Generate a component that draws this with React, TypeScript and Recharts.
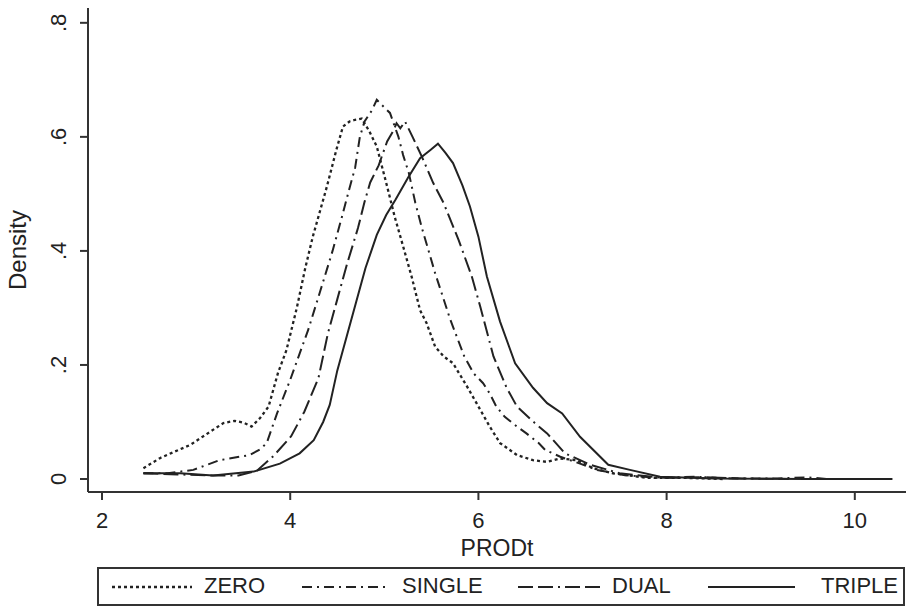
import { Label, Line, LineChart, XAxis, YAxis } from "recharts";

// kernel density curves as [PRODt, density]
const ZERO: [number, number][] = [
  [2.44, 0.019], [2.62, 0.037], [2.8, 0.05], [2.94, 0.06], [3.15, 0.083], [3.29, 0.098],
  [3.41, 0.102], [3.5, 0.099], [3.59, 0.092], [3.68, 0.107], [3.77, 0.127], [3.87, 0.186],
  [3.96, 0.226], [4.07, 0.3], [4.16, 0.37], [4.24, 0.425], [4.39, 0.513], [4.49, 0.577],
  [4.56, 0.618], [4.63, 0.627], [4.69, 0.63], [4.76, 0.632], [4.84, 0.61], [4.92, 0.583],
  [5.03, 0.513], [5.11, 0.46], [5.2, 0.408], [5.29, 0.355], [5.38, 0.296], [5.45, 0.273],
  [5.54, 0.232], [5.63, 0.215], [5.73, 0.203], [5.88, 0.162], [5.98, 0.133], [6.12, 0.092],
  [6.23, 0.063], [6.41, 0.042], [6.58, 0.033], [6.73, 0.03], [6.87, 0.036], [7.04, 0.033],
  [7.22, 0.019], [7.43, 0.01], [7.79, 0.002], [8.2, 0.002], [8.6, 0.0],
];

const SINGLE: [number, number][] = [
  [2.44, 0.01], [2.7, 0.01], [2.97, 0.016], [3.25, 0.033], [3.57, 0.042], [3.68, 0.052],
  [3.75, 0.063], [3.86, 0.115], [4.0, 0.174], [4.1, 0.22], [4.19, 0.261], [4.32, 0.33],
  [4.45, 0.4], [4.55, 0.46], [4.63, 0.51], [4.69, 0.546], [4.74, 0.6], [4.79, 0.627],
  [4.87, 0.647], [4.92, 0.665], [5.01, 0.65], [5.06, 0.642], [5.15, 0.6], [5.2, 0.568],
  [5.26, 0.537], [5.33, 0.484], [5.4, 0.44], [5.54, 0.361], [5.7, 0.28], [5.85, 0.215],
  [5.95, 0.185], [6.05, 0.168], [6.12, 0.15], [6.19, 0.127], [6.28, 0.109], [6.41, 0.092],
  [6.51, 0.08], [6.64, 0.063], [6.71, 0.051], [6.87, 0.039], [7.08, 0.027], [7.26, 0.016],
  [7.54, 0.007], [7.9, 0.002], [8.3, 0.004], [8.7, 0.001], [9.2, 0.001], [9.5, 0.003], [9.7, 0.0],
];

const DUAL: [number, number][] = [
  [2.44, 0.01], [2.8, 0.008], [3.2, 0.006], [3.45, 0.006], [3.65, 0.015], [3.82, 0.04],
  [4.01, 0.075], [4.15, 0.118], [4.3, 0.177], [4.4, 0.255], [4.5, 0.315], [4.6, 0.375],
  [4.72, 0.44], [4.79, 0.486], [4.85, 0.52], [4.94, 0.55], [5.03, 0.592], [5.1, 0.612],
  [5.13, 0.624], [5.17, 0.615], [5.22, 0.627], [5.3, 0.6], [5.4, 0.565], [5.52, 0.519],
  [5.63, 0.484], [5.79, 0.419], [5.93, 0.355], [6.02, 0.302], [6.16, 0.215], [6.3, 0.16],
  [6.41, 0.127], [6.6, 0.098], [6.73, 0.08], [6.92, 0.045], [7.19, 0.025], [7.5, 0.01],
  [7.96, 0.002], [8.4, 0.003], [8.8, 0.001], [9.3, 0.0],
];

const TRIPLE: [number, number][] = [
  [2.44, 0.01], [2.83, 0.01], [3.18, 0.006], [3.61, 0.013], [3.89, 0.027], [4.1, 0.045],
  [4.25, 0.068], [4.35, 0.1], [4.42, 0.13], [4.5, 0.19], [4.6, 0.25], [4.7, 0.31],
  [4.8, 0.37], [4.92, 0.428], [5.02, 0.463], [5.12, 0.49], [5.25, 0.528], [5.38, 0.5625],
  [5.49, 0.577], [5.57, 0.588], [5.65, 0.572], [5.73, 0.554], [5.83, 0.515], [5.91, 0.478],
  [6.0, 0.425], [6.09, 0.355], [6.23, 0.276], [6.39, 0.203], [6.58, 0.16], [6.73, 0.133],
  [6.89, 0.115], [7.08, 0.074], [7.38, 0.025], [7.61, 0.016], [7.93, 0.004], [8.5, 0.001],
  [9.5, 0.0], [10.4, 0.0],
];

const xTicks = [2, 4, 6, 8, 10];
const yTicks = [0, 0.2, 0.4, 0.6, 0.8];

const INK = "#222";
const FONT = "'Liberation Sans', Arial, sans-serif";

const series = [
  { name: "ZERO", points: ZERO, dash: "3 3", width: 2.3 },
  { name: "SINGLE", points: SINGLE, dash: "10 5 2 5", width: 2 },
  { name: "DUAL", points: DUAL, dash: "15 5 15 5 2 5", width: 2 },
  { name: "TRIPLE", points: TRIPLE, dash: undefined as string | undefined, width: 2 },
];

const toRows = (pts: [number, number][]) => pts.map(([x, y]) => ({ x, y }));

// stata style labels: 0, .2, .4 ...
const fmtY = (v: number) => (v === 0 ? "0" : String(v).replace(/^0/, ""));

function YTick({ x, y, payload }: any) {
  return (
    <text x={x} y={y} transform={`rotate(-90 ${x} ${y})`} textAnchor="middle"
      fontSize={22} fontFamily={FONT} fill={INK}>
      {fmtY(payload.value)}
    </text>
  );
}

const legendPos = [
  { sample: [112, 192], text: 204 },
  { sample: [302, 390], text: 402 },
  { sample: [518, 603], text: 612 },
  { sample: [708, 795], text: 821 },
];

export default function App() {
  return (
    <div style={{ position: "absolute", left: 0, top: 0, width: 914, height: 608, background: "#fff", fontFamily: FONT }}>
      <LineChart width={914} height={608} margin={{ top: 8, right: 8, left: 0, bottom: 76 }}>
        <XAxis type="number" dataKey="x" domain={[1.851, 10.544]} ticks={xTicks} allowDataOverflow
          height={40} tickSize={8} tickMargin={12} stroke="#333" strokeWidth={2}
          tick={{ fontSize: 22, fill: INK, fontFamily: FONT }}>
          <Label content={({ viewBox }: any) => (
            <text x={viewBox.x + viewBox.width / 2} y={viewBox.y + 64} textAnchor="middle"
              fontSize={23} fontFamily={FONT} fill={INK}>PRODt</text>
          )} />
        </XAxis>
        <YAxis type="number" dataKey="y" domain={[-0.0228, 0.826]} ticks={yTicks} allowDataOverflow
          width={88} tickSize={8} tickMargin={14} stroke="#333" strokeWidth={2} tick={<YTick />}>
          <Label content={({ viewBox }: any) => {
            const cy = viewBox.y + viewBox.height / 2;
            return (
              <text x={26} y={cy} transform={`rotate(-90 26 ${cy})`} textAnchor="middle"
                fontSize={24} fontFamily={FONT} fill={INK}>Density</text>
            );
          }} />
        </YAxis>
        {series.map((s) => (
          <Line key={s.name} data={toRows(s.points)} dataKey="y" type="linear" stroke={INK}
            strokeWidth={s.width} strokeDasharray={s.dash} dot={false} isAnimationActive={false} />
        ))}
      </LineChart>
      <div style={{ position: "absolute", left: 97, top: 567, width: 804, height: 35, border: "2px solid #333" }}>
        {series.map((s, i) => {
          const p = legendPos[i];
          return (
            <div key={s.name}>
              <svg style={{ position: "absolute", left: p.sample[0] - 99, top: 8 }} width={p.sample[1] - p.sample[0]} height={20}>
                <line x1={0} y1={10} x2={p.sample[1] - p.sample[0]} y2={10} stroke={INK}
                  strokeWidth={s.width} strokeDasharray={s.dash} />
              </svg>
              <span style={{ position: "absolute", left: p.text - 99, top: 4, fontSize: 22, color: INK, lineHeight: "26px" }}>
                {s.name}
              </span>
            </div>
          );
        })}
      </div>
    </div>
  );
}
